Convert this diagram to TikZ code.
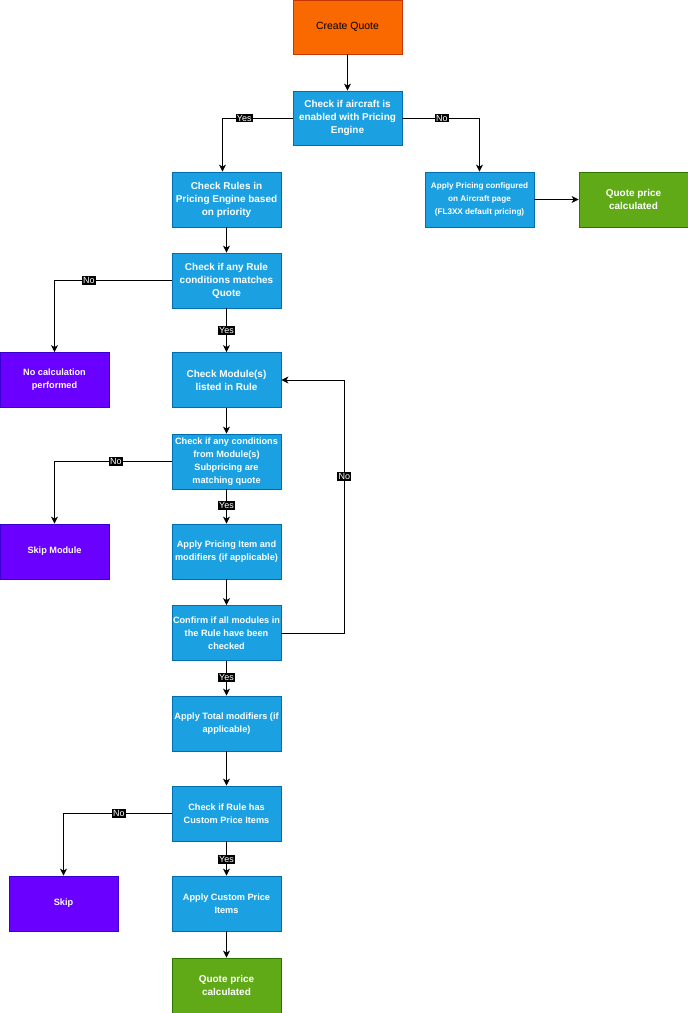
\documentclass[tikz,border=0pt]{standalone}
\usepackage{fontspec}
\setmainfont{Liberation Sans}
\usetikzlibrary{arrows.meta}
\definecolor{bluefill}{HTML}{1BA1E2}
\definecolor{blueline}{HTML}{006EAF}
\definecolor{orangefill}{HTML}{FA6800}
\definecolor{orangeline}{HTML}{C73500}
\definecolor{greenfill}{HTML}{60A917}
\definecolor{greenline}{HTML}{2D7600}
\definecolor{purplefill}{HTML}{6A00FF}
\definecolor{purpleline}{HTML}{3700CC}
\tikzset{
  box/.style={rectangle, minimum width=109bp, minimum height=55bp, inner sep=1bp,
    line width=0.8bp, align=center, text=white,
    font=\fontsize{10}{13}\selectfont\bfseries},
  bluebox/.style={box, fill=bluefill, draw=blueline},
  greenbox/.style={box, fill=greenfill, draw=greenline},
  purplebox/.style={box, fill=purplefill, draw=purpleline},
  orangebox/.style={box, fill=orangefill, draw=orangeline, text=black,
    font=\fontsize{10.5}{13}\selectfont},
  smalltext/.style={font=\fontsize{9.2}{13}\selectfont\bfseries},
  tinytext/.style={font=\fontsize{8.2}{13.3}\selectfont\bfseries},
  conn/.style={draw=black, line width=0.9bp,
    -{Stealth[length=7bp, width=7bp, inset=2bp]}},
  lbl/.style={fill=black, text=white, inner sep=1.2bp,
    font=\fontsize{9}{10}\selectfont}
}
\begin{document}
\begin{tikzpicture}[x=1bp, y=-1bp]
\useasboundingbox (0,0) rectangle (688,1013);
\fill[white] (0,0) rectangle (688,1013);

\node[orangebox, minimum height=54bp] (cq) at (347.5,27) {Create Quote};
\node[bluebox, minimum height=54bp] (air) at (347.5,118) {Check if aircraft is\\enabled with Pricing\\Engine};
\node[bluebox] (rules) at (226.5,199.5) {Check Rules in\\Pricing Engine based\\on priority};
\node[bluebox, tinytext] (apc) at (479.5,199.5) {Apply Pricing configured\\on Aircraft page\\(FL3XX default pricing)};
\node[greenbox] (qpr) at (633.5,199.5) {Quote price\\calculated};
\node[bluebox] (anyr) at (226.5,280.5) {Check if any Rule\\conditions matches\\Quote};
\node[purplebox, smalltext] (nocalc) at (54.5,380) {No calculation\\performed};
\node[bluebox] (chkmod) at (226.5,380) {Check Module(s)\\listed in Rule};
\node[bluebox, smalltext] (cond) at (226.5,461.5) {Check if any conditions\\from Module(s)\\Subpricing are\\matching quote};
\node[purplebox, smalltext] (skipmod) at (54.5,551.5) {Skip Module};
\node[bluebox, smalltext] (item) at (226.5,551.5) {Apply Pricing Item and\\modifiers (if applicable)};
\node[bluebox, smalltext] (confirm) at (226.5,633) {Confirm if all modules in\\the Rule have been\\checked};
\node[bluebox, smalltext] (total) at (226.5,723.5) {Apply Total modifiers (if\\applicable)};
\node[bluebox, smalltext] (custom) at (226.5,813.5) {Check if Rule has\\Custom Price Items};
\node[purplebox, smalltext] (skip) at (63.5,903.5) {Skip};
\node[bluebox, smalltext] (applyc) at (226.5,903.5) {Apply Custom Price\\Items};
\node[greenbox] (qpb) at (226.5,985.5) {Quote price\\calculated};

\draw[conn] (cq) -- (air);
\draw[conn] (air.west) -| node[lbl, pos=0.345] (l1) {Yes} ([xshift=-4bp]rules.north);
\draw[conn] (air.east) -| node[lbl, pos=0.256] (l2) {No} (apc.north);
\draw[conn] (apc) -- (qpr);
\draw[conn] (rules) -- (anyr);
\draw[conn] (anyr.west) -| node[lbl, pos=0.353] (l3) {No} (nocalc.north);
\draw[conn] (anyr) -- node[lbl, pos=0.5] (l4) {Yes} (chkmod);
\draw[conn] (chkmod) -- (cond);
\draw[conn] (cond.west) -| node[lbl, pos=0.238] (l5) {No} (skipmod.north);
\draw[conn] (cond) -- node[lbl, pos=0.48] (l6) {Yes} (item);
\draw[conn] (item) -- (confirm);
\draw[conn] (confirm.east) -- ++(63,0) |- node[lbl, pos=0.309] (l7) {No} (chkmod.east);
\draw[conn] (confirm) -- node[lbl, pos=0.48] (l8) {Yes} (total);
\draw[conn] (total) -- (custom);
\draw[conn] (custom.west) -| node[lbl, pos=0.244] (l9) {No} (skip.north);
\draw[conn] (custom) -- node[lbl, pos=0.52] (l10) {Yes} (applyc);
\draw[conn] (applyc) -- (qpb);
\end{tikzpicture}
\end{document}
